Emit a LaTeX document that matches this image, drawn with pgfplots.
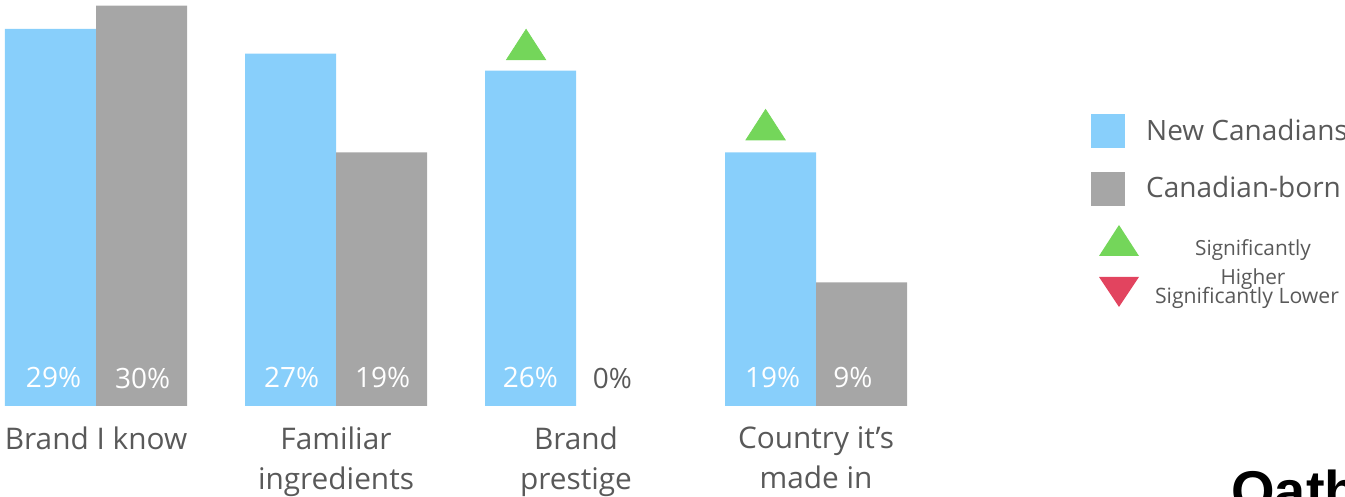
\documentclass[border=0pt]{standalone}
\usepackage{fontspec}
\setmainfont{Open Sans}
\newfontfamily\logofont{Liberation Sans}
\usepackage{pgfplots}
\usepackage{pgfplotstable}
\pgfplotsset{compat=1.18}
\definecolor{nblue}{HTML}{88CFFB}
\definecolor{cgray}{HTML}{A6A6A6}
\definecolor{txt}{HTML}{595959}
\definecolor{sigg}{HTML}{74D65A}
\definecolor{sigr}{HTML}{E2445F}

\pgfplotstableread{
x blue gray
0 29.0 30.8
1 27.1 19.5
2 25.8 0
3 19.5 9.5
}\bars
\pgfplotstableread{
x y lab
-0.177 2.154 29
0.815 2.154 27
1.810 2.154 26
2.819 2.154 19
}\bluelab
\pgfplotstableread{
x y lab
0.194 2.154 30
1.194 2.154 19
3.154 2.154 9
}\graylab
\pgfplotstableread{
x y lab
2.152 2.154 0
}\zerolab

\begin{document}
\begin{tikzpicture}
\useasboundingbox (0,-45.5pt) rectangle (672.5pt,203pt);
\clip (0,-45.5pt) rectangle (672.5pt,203pt);
\begin{axis}[
  at={(0,0)}, anchor=south west, scale only axis,
  width=672.5pt, height=203pt,
  xmin=-0.4, xmax=5.2042, ymin=0, ymax=31.23,
  axis line style={draw=none}, tick style={draw=none}, ytick=\empty,
  xtick={0,1,2,3},
  xticklabels={Brand I know, {Familiar\\ingredients}, {Brand\\prestige}, {Country it’s\\made in}},
  xticklabel style={align=center, font=\fontsize{14.9}{20}\selectfont, text=txt, anchor=north, inner sep=0pt, yshift=-10.2pt},
  clip=false,
  legend cell align=left,
  legend style={at={(axis cs:4.1458,23.385)}, anchor=north west, draw=none, fill=none,
    inner sep=0pt, outer sep=0pt, row sep=0pt, column sep=3.6pt,
    font=\fontsize{14}{16}\selectfont, text=txt,
    nodes={inner sep=0pt, outer sep=0pt, text height=0pt, text depth=0pt}},
  lab/.style={draw=none, mark=none, forget plot,
    point meta=explicit symbolic, nodes near coords={\pgfplotspointmeta\%},
    every node near coord/.append style={anchor=center, inner sep=0pt, font=\fontsize{14}{16}\selectfont}},
]
\addplot[ybar, bar width=45.5pt, bar shift=-22.75pt, fill=nblue, draw=none, forget plot] table[x=x, y=blue]{\bars};
\addplot[ybar, bar width=45.5pt, bar shift=22.75pt, fill=cgray, draw=none, forget plot, restrict y to domain=0.01:100] table[x=x, y=gray]{\bars};
\addplot[lab, every node near coord/.append style={text=white}] table[x=x, y=y, meta=lab]{\bluelab};
\addplot[lab, every node near coord/.append style={text=white}] table[x=x, y=y, meta=lab]{\graylab};
\addplot[lab, every node near coord/.append style={text=txt}] table[x=x, y=y, meta=lab]{\zerolab};
\addplot[only marks, color=sigg, mark=triangle*, mark size=11.3pt, mark options={fill=sigg, draw=sigg, yscale=0.895}, forget plot] coordinates {(1.792,27.41) (2.790,21.25)};

\addlegendimage{legend image code/.code={\path[fill=nblue, draw=none] (0pt,-8.5pt) rectangle (17pt,8.5pt); \path[draw=none, fill=none] (0pt,-14.5pt) rectangle (24pt,14.5pt);}}
\addlegendentry{\raisebox{-4.75pt}[0pt][0pt]{New Canadians}}
\addlegendimage{legend image code/.code={\path[fill=cgray, draw=none] (0pt,-8.5pt) rectangle (17pt,8.5pt); \path[draw=none, fill=none] (0pt,-12.875pt) rectangle (24pt,14.5pt);}}
\addlegendentry{\raisebox{-4.5pt}[0pt][0pt]{Canadian-born}}
\addlegendimage{legend image code/.code={\path[fill=sigg, draw=none] (4pt,-7.75pt) -- (24pt,-7.75pt) -- (14pt,7.75pt) -- cycle; \path[draw=none, fill=none] (0pt,-12.875pt) rectangle (24pt,12.875pt);}}
\addlegendentry{\fontsize{10.4}{12}\selectfont\hspace*{53.4pt}\rlap{\raisebox{-7.7pt}[0pt][0pt]{\makebox[0pt]{Significantly}}}\raisebox{-21.9pt}[0pt][0pt]{\makebox[0pt]{Higher}}}
\addlegendimage{legend image code/.code={\path[fill=sigr, draw=none] (4pt,7.5pt) -- (24pt,7.5pt) -- (14pt,-7.5pt) -- cycle; \path[draw=none, fill=none] (0pt,-12.875pt) rectangle (24pt,12.875pt);}}
\addlegendentry{\fontsize{10.6}{12}\selectfont\hspace*{50.4pt}\raisebox{-5.8pt}[0pt][0pt]{\makebox[0pt]{Significantly Lower}}}
\end{axis}
\node[anchor=base west, inner sep=0pt, font={\fontsize{28}{30}\logofont\bfseries}] at (615.5pt,-52.5pt) {Oath};
\end{tikzpicture}
\end{document}
